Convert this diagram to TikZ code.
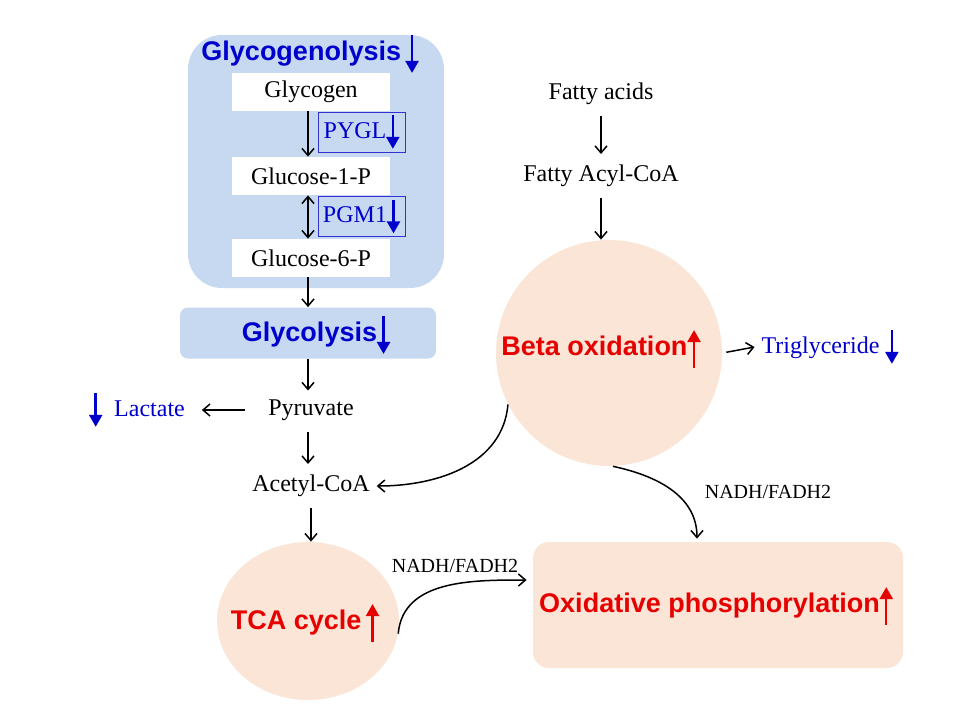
\documentclass[tikz,border=0pt]{standalone}
\usepackage{fontspec}
\setmainfont{Liberation Serif}
\setsansfont{Liberation Sans}
\usetikzlibrary{arrows.meta,shapes.geometric,calc}

\definecolor{bluebg}{RGB}{198,217,240}
\definecolor{peach}{RGB}{251,229,214}
\definecolor{darkblue}{RGB}{0,0,204}
\definecolor{enzblue}{RGB}{50,50,210}
\definecolor{upred}{RGB}{230,0,0}

\newcommand{\downmark}[1][darkblue]{\tikz[baseline=0pt]\draw[#1, line width=1.2pt, -{Triangle[length=6pt,width=6.5pt]}] (0,0.95em) -- (0,-0.45em);}
\newcommand{\upmark}[1][upred]{\tikz[baseline=0pt]\draw[#1, line width=1.2pt, -{Triangle[length=6pt,width=6.5pt]}] (0,-0.45em) -- (0,0.95em);}

\begin{document}
\begin{tikzpicture}[x=0.5pt, y=-0.5pt,
    every node/.style={font=\fontsize{12}{14}\selectfont},
    arr/.style={-{Straight Barb[length=3.5pt,width=6pt]}, line width=0.75pt},
    biarr/.style={{Straight Barb[length=3.5pt,width=6pt]}-{Straight Barb[length=3.5pt,width=6pt]}, line width=0.75pt},
    whitebox/.style={fill=white, minimum width=79pt, minimum height=19pt, inner sep=0pt},
    enzyme/.style={draw=enzblue, line width=0.5pt, text=darkblue, minimum width=43.5pt, minimum height=19pt, inner sep=1pt},
    heading/.style={font=\sffamily\bfseries\fontsize{13.5}{16}\selectfont},
    lowered/.style={heading, text=darkblue},
    raised/.style={heading, text=upred},
    cofactor/.style={font=\fontsize{10}{12}\selectfont}]
    \useasboundingbox (0,0) rectangle (960,720);

    % glycogen breakdown
    \node[fill=bluebg, rounded corners=17pt, minimum width=128pt, minimum height=126.5pt] (glycobg) at (316,161.5) {};
    \node[lowered] (glycogenolysis) at (310,54) {Glycogenolysis\,\downmark};
    \node[whitebox] (glycogen) at (311,92) {Glycogen};
    \node[whitebox] (g1p) at (311,176) {Glucose-1-P};
    \node[whitebox] (g6p) at (311,258) {Glucose-6-P};
    \node[enzyme] (pygl) at (361.5,132) {PYGL\downmark};
    \node[enzyme] (pgm1) at (361.5,216.5) {PGM1\downmark};
    \coordinate (leftcol) at (308,0);
    \draw[arr] (leftcol |- glycogen.south) -- (leftcol |- g1p.north);
    \draw[biarr] (leftcol |- g1p.south) -- (leftcol |- g6p.north);

    % glycolysis
    \node[fill=bluebg, rounded corners=4pt, minimum width=128pt, minimum height=25.5pt] (glycolysis) at (308,333) {};
    \node[lowered] (glycolysistxt) at (316,335) {Glycolysis\downmark};
    \draw[arr] (leftcol |- g6p.south) -- (leftcol |- glycolysis.north);
    \node (pyruvate) at (311,410) {Pyruvate};
    \node[text=darkblue] (lactate) at (137,410) {\downmark\ \ Lactate};
    \node (acetyl) at (311,486) {Acetyl-CoA};
    \draw[arr, shorten >=1pt] (leftcol |- glycolysis.south) -- (leftcol |- pyruvate.north);
    \draw[arr, shorten <=8pt, shorten >=5pt] (pyruvate.west) -- (lactate.east);
    \draw[arr, shorten <=2pt, shorten >=2pt] (leftcol |- pyruvate.south) -- (leftcol |- acetyl.north);

    % TCA cycle
    \node[ellipse, fill=peach, minimum width=91pt, minimum height=79pt, inner sep=0pt] (tca) at (308,621) {};
    \node[raised] (tcatxt) at (305,623) {TCA cycle\,\upmark};
    \draw[arr, shorten <=2pt] (acetyl.south) -- (acetyl.south |- tca.north);

    % fatty acids
    \node (fatty) at (601,94) {Fatty acids};
    \node (acyl) at (601,176) {Fatty Acyl-CoA};
    \node[circle, fill=peach, minimum size=113pt, inner sep=0pt] (beta) at (609,353) {};
    \node[raised] (betatxt) at (601,349) {Beta oxidation\upmark};
    \node[text=darkblue] (trig) at (830,347) {Triglyceride \downmark};
    \draw[arr, shorten <=2pt, shorten >=2pt] (fatty.south) -- (acyl.north);
    \draw[arr, shorten <=2pt] (acyl.south) -- (acyl.south |- beta.north);
    \draw[arr, shorten <=2pt] (beta.east) -- (trig.west);

    % oxidative phosphorylation
    \node[fill=peach, rounded corners=8pt, minimum width=185pt, minimum height=63pt] (oxphos) at (718,605) {};
    \node[raised] (oxphostxt) at (716,606) {Oxidative phosphorylation\upmark};
    \draw[arr] (beta.207) to[out=-95, in=0] (acetyl.east);
    \draw[arr] (beta.-88) to[out=-12, in=90] ($(oxphos.north)+(-21,-3)$);
    \draw[arr] (tca.-8) to[out=85, in=180] ($(oxphos.west)+(-6,-25)$);
    \node[cofactor] (nadhbeta) at (768,492) {NADH/FADH2};
    \node[cofactor] (nadhtca) at (455,566) {NADH/FADH2};
\end{tikzpicture}
\end{document}
